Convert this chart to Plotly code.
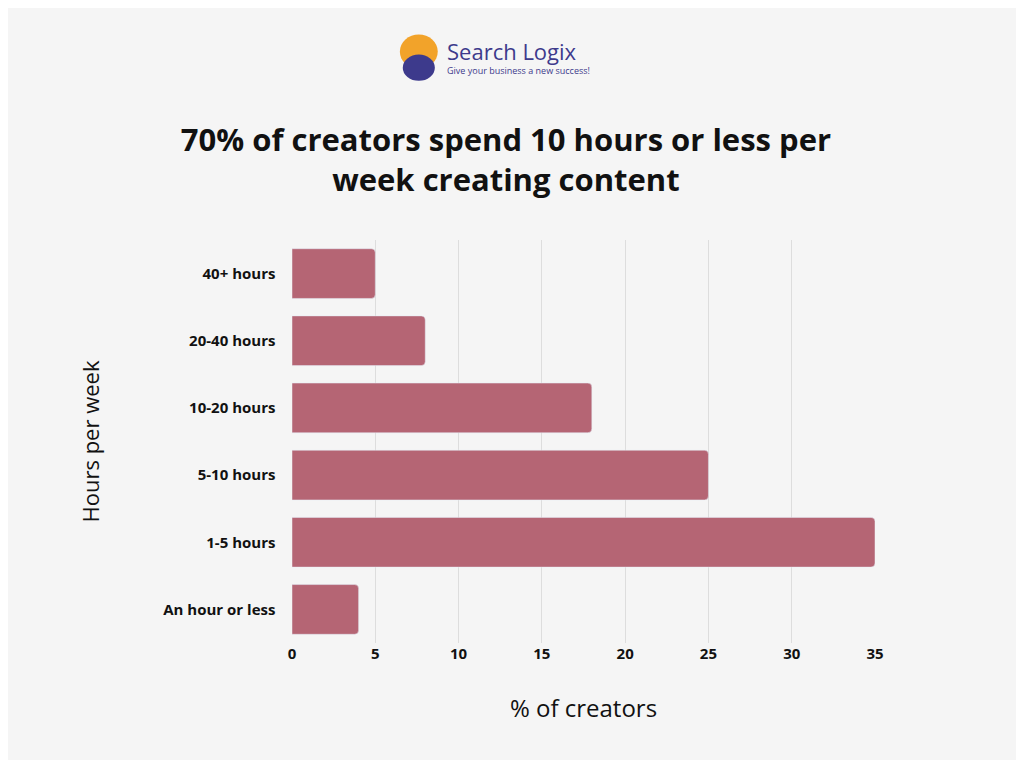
import plotly.graph_objects as go

categories = ["An hour or less", "1-5 hours", "5-10 hours", "10-20 hours", "20-40 hours", "40+ hours"]
values = [4, 35, 25, 18, 8, 5]

fig = go.Figure(go.Bar(x=values, y=categories, orientation="h",
                       marker=dict(color="#b56574", cornerradius=4)))

fig.update_layout(
    width=1008, height=752,
    paper_bgcolor="#f5f5f5", plot_bgcolor="#f5f5f5",
    margin=dict(l=284, r=141, t=232, b=117),
    bargap=0.26, showlegend=False,
    font=dict(family="Open Sans", color="#111"),
    title=dict(text="<b>70% of creators spend 10 hours or less per<br>week creating content</b>",
               x=0.494, xanchor="center", y=0.81, yanchor="middle",
               font=dict(size=31, family="Open Sans", color="#111")),
)
fig.update_xaxes(range=[0, 35], tickvals=[0, 5, 10, 15, 20, 25, 30, 35],
                 showgrid=True, gridcolor="#dddddd", zeroline=False,
                 tickfont=dict(size=15, family="Open Sans", color="#111", weight="bold"),
                 title=dict(text="% of creators", font=dict(size=24), standoff=38))
fig.update_yaxes(tickfont=dict(size=15, family="Open Sans", color="#111", weight="bold"),
                 ticksuffix="    ", categoryorder="array", categoryarray=categories,
                 title=dict(text="Hours per week", font=dict(size=22), standoff=57))

# logo
fig.add_shape(type="circle", xref="paper", yref="paper",
              x0=0.185, x1=0.25, y0=1.425, y1=1.51,
              fillcolor="#f2a32a", line_width=0)
fig.add_shape(type="circle", xref="paper", yref="paper",
              x0=0.19, x1=0.245, y0=1.395, y1=1.46,
              fillcolor="#3d3a8c", line_width=0)
fig.add_annotation(text="Search Logix", xref="paper", yref="paper", x=0.262, y=1.47,
                   xanchor="left", yanchor="middle", showarrow=False,
                   font=dict(size=22, color="#3d3a8c", family="Open Sans"))
fig.add_annotation(text="Give your business a new success!", xref="paper", yref="paper",
                   x=0.262, y=1.42, xanchor="left", yanchor="middle", showarrow=False,
                   font=dict(size=9, color="#3d3a8c", family="Open Sans"))

fig.write_html("out.html")
